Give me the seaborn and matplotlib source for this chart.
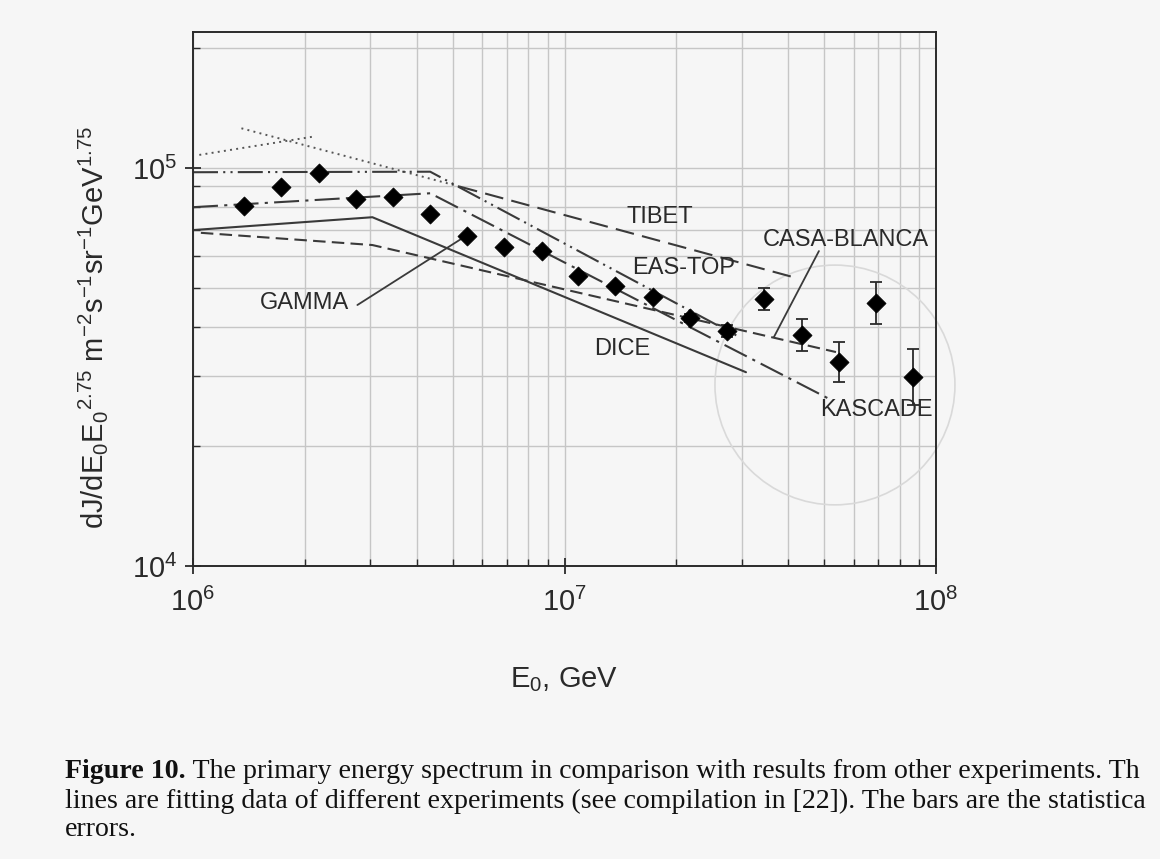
import numpy as np
import matplotlib
matplotlib.use("Agg")
import matplotlib.pyplot as plt
import seaborn as sns
from matplotlib.patches import Ellipse
from matplotlib.ticker import LogLocator, NullFormatter

# ---------------- data ----------------
gamma_E = [1.37e6, 1.73e6, 2.18e6, 2.74e6, 3.45e6, 4.35e6, 5.47e6, 6.89e6, 8.68e6,
           1.09e7, 1.37e7, 1.73e7, 2.18e7, 2.74e7, 3.45e7, 4.35e7, 5.47e7, 6.89e7, 8.68e7]
gamma_J = [8.03e4, 8.96e4, 9.71e4, 8.36e4, 8.46e4, 7.66e4, 6.75e4, 6.33e4, 6.19e4,
           5.35e4, 5.05e4, 4.74e4, 4.20e4, 3.90e4, 4.69e4, 3.81e4, 3.25e4, 4.58e4, 2.99e4]
gamma_err_lo = [0, 0, 0, 0, 0, 0, 0, 0, 0, 0, 0, 0, 1000, 1400, 2900, 3350, 3550, 5250, 4450]
gamma_err_hi = [0, 0, 0, 0, 0, 0, 0, 0, 0, 0, 0, 0, 1000, 1300, 3050, 3700, 4000, 5900, 5250]

tibet_E = [5.2e6, 4.2e7]
tibet_J = [9.0e4, 5.3e4]
tibet_ext_E = [1.35e6, 5.2e6]
tibet_ext_J = [1.26e5, 9.0e4]
dotted_E = [1.04e6, 2.1e6]
dotted_J = [1.08e5, 1.2e5]
eastop_E = [1.0e6, 4.35e6, 2.9e7]
eastop_J = [9.77e4, 9.8e4, 3.8e4]
kascade_E = [1.0e6, 4.35e6, 5.12e7]
kascade_J = [7.98e4, 8.65e4, 2.64e4]
dice_E = [1.0e6, 3.04e6, 3.08e7]
dice_J = [6.99e4, 7.53e4, 3.07e4]
casa_E = [1.05e6, 3.04e6, 5.38e7]
casa_J = [6.88e4, 6.41e4, 3.45e4]

labels = ["TIBET", "EAS-TOP", "CASA-BLANCA", "DICE", "KASCADE", "GAMMA"]
label_E = [1.80e7, 2.09e7, 5.72e7, 1.433e7, 6.93e7, 2.00e6]
label_J = [7.53e4, 5.61e4, 6.59e4, 3.51e4, 2.466e4, 4.58e4]

xticks = [1e6, 1e7, 1e8]
yticks = [1e4, 1e5]

caption_bold = "Figure 10."
caption_lines = [" The primary energy spectrum in comparison with results from other experiments. Th",
                 "lines are fitting data of different experiments (see compilation in [22]). The bars are the statistica",
                 "errors."]

# ---------------- style ----------------
sns.set_theme(style="ticks")
plt.rcParams["font.family"] = ["Liberation Sans", "DejaVu Sans"]
plt.rcParams["mathtext.fontset"] = "custom"
plt.rcParams["mathtext.rm"] = "Liberation Sans"
plt.rcParams["mathtext.it"] = "Liberation Sans"
plt.rcParams["mathtext.bf"] = "Liberation Sans:bold"

BG = "#f6f6f6"
INK = "#2a2a2a"
LINE = "#3a3a3a"

fig = plt.figure(figsize=(11.6, 8.59), dpi=100, facecolor=BG)
ax = fig.add_axes([193 / 1160, 1 - 566 / 859, 743 / 1160, 534 / 859])
ax.set_facecolor(BG)
ax.set_xscale("log")
ax.set_yscale("log")

lw = 1.5
sns.lineplot(x=dotted_E, y=dotted_J, ax=ax, color="#555555", linewidth=1.4,
             linestyle=(0, (1, 2.2)), estimator=None, sort=False)
sns.lineplot(x=tibet_ext_E, y=tibet_ext_J, ax=ax, color="#555555", linewidth=1.4,
             linestyle=(0, (1, 2.2)), estimator=None, sort=False)
sns.lineplot(x=tibet_E, y=tibet_J, ax=ax, color=LINE, linewidth=lw,
             linestyle=(0, (9, 4)), estimator=None, sort=False)
sns.lineplot(x=eastop_E, y=eastop_J, ax=ax, color=LINE, linewidth=lw,
             linestyle=(0, (12, 2.5, 1, 2.5, 1, 2.5)), estimator=None, sort=False)
sns.lineplot(x=kascade_E, y=kascade_J, ax=ax, color=LINE, linewidth=lw,
             linestyle=(0, (12, 3, 1.5, 3)), estimator=None, sort=False)
sns.lineplot(x=dice_E, y=dice_J, ax=ax, color=LINE, linewidth=lw,
             linestyle="-", estimator=None, sort=False)
sns.lineplot(x=casa_E, y=casa_J, ax=ax, color=LINE, linewidth=lw,
             linestyle=(0, (6, 3)), estimator=None, sort=False)

# error bars (only where visible)
E_arr = np.array(gamma_E)
J_arr = np.array(gamma_J)
lo = np.array(gamma_err_lo)
hi = np.array(gamma_err_hi)
m = (lo > 0) | (hi > 0)
ax.errorbar(E_arr[m], J_arr[m], yerr=[lo[m], hi[m]], fmt="none", ecolor=INK,
            elinewidth=1.3, capsize=4.5, capthick=1.3, zorder=4)
sns.scatterplot(x=gamma_E, y=gamma_J, ax=ax, marker="D", s=95, color="black",
                edgecolor="black", linewidth=0.5, zorder=5)

# labels
for t, e, j in zip(labels, label_E, label_J):
    ax.text(e, j, t, fontsize=17, color=INK, ha="center", va="center", zorder=6)

ax.annotate("", xy=(5.31e6, 6.67e4), xytext=(2.77e6, 4.53e4),
            arrowprops=dict(arrowstyle="-", color=LINE, lw=1.3, shrinkA=0, shrinkB=0))
ax.annotate("", xy=(3.66e7, 3.76e4), xytext=(4.84e7, 6.19e4),
            arrowprops=dict(arrowstyle="-", color=LINE, lw=1.3, shrinkA=0, shrinkB=0))

# faint circle drawn on the page
ax.add_patch(Ellipse((0.864, 0.339), 0.323, 0.449, transform=ax.transAxes,
                     fill=False, edgecolor="#d9d9d9", lw=1.2, clip_on=False, zorder=1))

ax.set_xlim(1e6, 1e8)
ax.set_ylim(1e4, 2.2e5)
ax.set_xticks(xticks)
ax.set_yticks(yticks)
ax.set_xticklabels([r"$10^{%d}$" % int(round(np.log10(v))) for v in xticks])
ax.set_yticklabels([r"$10^{%d}$" % int(round(np.log10(v))) for v in yticks])
ax.xaxis.set_minor_locator(LogLocator(base=10, subs=np.arange(2, 10)))
ax.yaxis.set_minor_locator(LogLocator(base=10, subs=np.arange(2, 10)))
ax.xaxis.set_minor_formatter(NullFormatter())
ax.yaxis.set_minor_formatter(NullFormatter())

ax.grid(True, which="both", color="#c6c6c6", lw=1.0, zorder=0)
ax.set_axisbelow(True)
ax.tick_params(which="major", direction="inout", length=11, width=1.3, colors=INK,
               labelsize=21)
ax.tick_params(axis="x", which="major", pad=10)
ax.tick_params(axis="y", which="major", pad=6)
ax.tick_params(which="minor", direction="in", length=5, width=1.0, colors=INK)
for s in ax.spines.values():
    s.set_color(INK)
    s.set_linewidth(1.4)

ax.set_ylabel(r"dJ/dE$_0$E$_0$$^{2.75}$ m$^{-2}$s$^{-1}$sr$^{-1}$GeV$^{1.75}$",
              fontsize=21, color=INK)
ax.yaxis.set_label_coords(-0.112, 0.446)
ax.set_xlabel(r"E$_0$, GeV", fontsize=21, color=INK)
ax.xaxis.set_label_coords(0.5, -0.185)

# caption
fig.canvas.draw()
r = fig.canvas.get_renderer()
y0 = 1 - 772 / 859
dy = 29 / 859
cap_fs = 20.1
serif = ["Liberation Serif", "DejaVu Serif"]
tb = fig.text(65 / 1160, y0, caption_bold, fontsize=cap_fs, fontweight="bold",
              family=serif, color="#111111", va="center")
bb = tb.get_window_extent(renderer=r)
fig.text(bb.x1 / 1160, y0, caption_lines[0], fontsize=cap_fs,
         family=serif, color="#111111", va="center")
fig.text(65 / 1160, y0 - dy, caption_lines[1], fontsize=cap_fs,
         family=serif, color="#111111", va="center")
fig.text(65 / 1160, y0 - 2 * dy, caption_lines[2], fontsize=cap_fs,
         family=serif, color="#111111", va="center")

fig.savefig("out.png", dpi=100, facecolor=BG)
